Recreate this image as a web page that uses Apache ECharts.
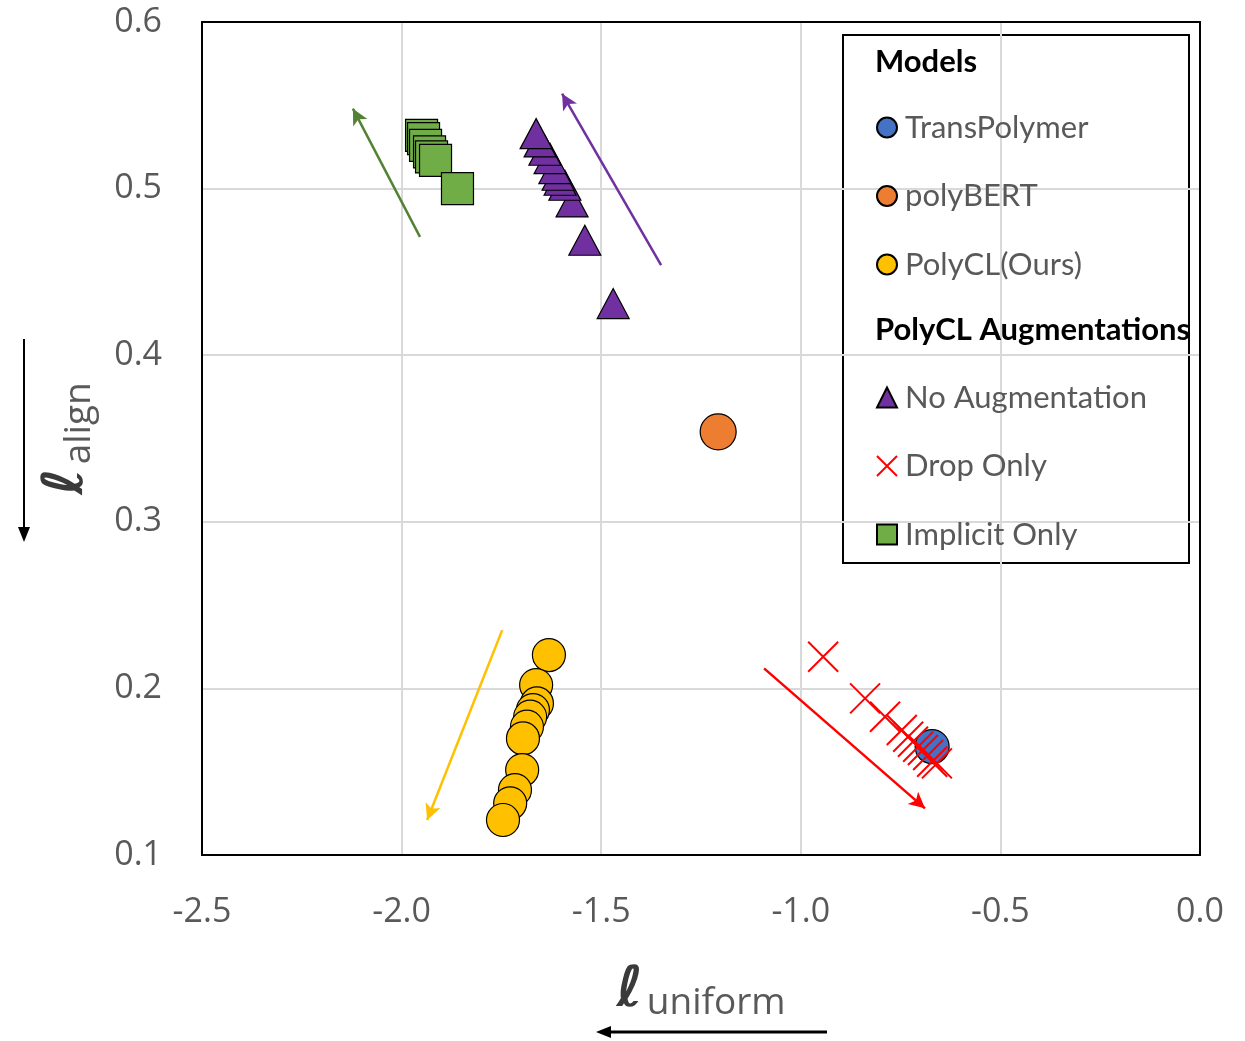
<!DOCTYPE html>
<html>
<head>
<meta charset="utf-8">
<script src="https://cdn.jsdelivr.net/npm/echarts@6/dist/echarts.min.js"></script>
<style>
  html, body { margin: 0; padding: 0; background: #fff; }
  #main { width: 1245px; height: 1041px; }
</style>
</head>
<body>
<div id="main"></div>
<script>
// values
const transPolymer = [[-0.671, 0.165]];
const polyBERT = [[-1.207, 0.354]];
const polyCLx = [-1.631, -1.663, -1.661, -1.671, -1.678, -1.686, -1.696, -1.698, -1.716, -1.728, -1.746];
const polyCLy = [0.220, 0.202, 0.191, 0.187, 0.183, 0.177, 0.170, 0.151, 0.139, 0.131, 0.121];
const noAugX = [-1.470, -1.541, -1.573, -1.591, -1.603, -1.608, -1.616, -1.628, -1.641, -1.653, -1.663];
const noAugY = [0.431, 0.469, 0.492, 0.502, 0.505, 0.508, 0.512, 0.518, 0.523, 0.528, 0.533];
const dropX = [-0.944, -0.839, -0.789, -0.747, -0.731, -0.719, -0.706, -0.694, -0.681, -0.671, -0.659];
const dropY = [0.219, 0.194, 0.183, 0.175, 0.171, 0.168, 0.165, 0.163, 0.160, 0.156, 0.155];
const implicitX = [-1.950, -1.945, -1.940, -1.930, -1.925, -1.915, -1.860];
const implicitY = [0.532, 0.530, 0.526, 0.522, 0.519, 0.517, 0.500];

// trend arrows [start, end]
const arrowImplicit = [[-1.954, 0.471], [-2.122, 0.548]];
const arrowNoAug = [[-1.350, 0.454], [-1.598, 0.557]];
const arrowPolyCL = [[-1.748, 0.235], [-1.936, 0.121]];
const arrowDrop = [[-1.092, 0.212], [-0.689, 0.128]];

const xTicks = [-2.5, 0, 0.5];   // min, max, step
const yTicks = [0.1, 0.6, 0.1];

const zip = (xs, ys) => xs.map((x, i) => [x, ys[i]]);

function arrow(pts, color) {
  return {
    silent: true,
    symbol: ['none', 'arrow'],
    symbolSize: [12, 16],
    label: { show: false },
    lineStyle: { color: color, width: 2.5, type: 'solid' },
    data: [[{ coord: pts[0] }, { coord: pts[1] }]]
  };
}

const chart = echarts.init(document.getElementById('main'));
const tickFont = { fontFamily: 'Open Sans', fontSize: 34, color: '#595959' };
const legendText = { fontFamily: 'Lato', fontSize: 31, color: '#595959', lineHeight: 28, padding: [0, 0, 0, 3] };
const nameRich = {
  l: { fontFamily: 'DejaVu Sans', fontStyle: 'italic', fontWeight: 'bold', fontSize: 56, color: '#3a3a3a', lineHeight: 58 },
  s: { fontFamily: 'Open Sans', fontSize: 37, color: '#595959', padding: [24, 0, 0, 4] }
};
const frame = { show: true, onZero: false, lineStyle: { color: '#000', width: 2 } };
const grid = { splitLine: { show: true, showMinLine: false, showMaxLine: false, lineStyle: { color: '#d9d9d9', width: 2 } } };

const option = {
  animation: false,
  backgroundColor: '#fff',
  grid: {
    left: 202, right: 45, top: 22, bottom: 186,
    containLabel: false, outerBoundsMode: 'none'
  },
  xAxis: [
    Object.assign({
      type: 'value',
      min: xTicks[0], max: xTicks[1], interval: xTicks[2],
      axisLine: frame,
      axisTick: { show: false },
      axisLabel: Object.assign({ margin: 40, formatter: v => v.toFixed(1) }, tickFont),
      name: '{l|ℓ}{s|uniform}',
      nameLocation: 'middle',
      nameGap: 106,
      nameTextStyle: { rich: nameRich }
    }, grid),
    {
      type: 'value', position: 'top',
      min: xTicks[0], max: xTicks[1], interval: xTicks[2],
      axisLine: frame, axisTick: { show: false }, axisLabel: { show: false }, splitLine: { show: false }
    }
  ],
  yAxis: [
    Object.assign({
      type: 'value',
      min: yTicks[0], max: yTicks[1], interval: yTicks[2],
      axisLine: frame,
      axisTick: { show: false },
      axisLabel: Object.assign({ margin: 40, formatter: v => v.toFixed(1) }, tickFont),
      name: '{l|ℓ}{s|align}',
      nameLocation: 'middle',
      nameRotate: 90,
      nameGap: 104,
      nameTextStyle: { rich: nameRich }
    }, grid),
    {
      type: 'value', position: 'right',
      min: yTicks[0], max: yTicks[1], interval: yTicks[2],
      axisLine: frame, axisTick: { show: false }, axisLabel: { show: false }, splitLine: { show: false }
    }
  ],
  legend: [
    {
      data: ['TransPolymer', 'polyBERT', 'PolyCL(Ours)'],
      orient: 'vertical', left: 876, top: 112, padding: 0,
      itemWidth: 20, itemHeight: 20, itemGap: 37.5,
      textStyle: legendText
    },
    {
      data: ['No Augmentation', 'Drop Only', 'Implicit Only'],
      orient: 'vertical', left: 876, top: 382, padding: 0,
      itemWidth: 20, itemHeight: 20, itemGap: 37.5,
      textStyle: legendText
    }
  ],
  graphic: [
    { type: 'rect', shape: { x: 843, y: 35, width: 346, height: 528 }, style: { fill: '#fff', stroke: '#000', lineWidth: 2 }, z: 0 },
    { type: 'text', left: 875, top: 46, style: { text: 'Models', font: 'bold 31px Lato', fill: '#000' }, z: 10 },
    { type: 'text', left: 875, top: 314, style: { text: 'PolyCL Augmentations', font: 'bold 31px Lato', fill: '#000' }, z: 10 },
    // direction arrows beside the axis names
    { type: 'line', shape: { x1: 24, y1: 339, x2: 24, y2: 528 }, style: { stroke: '#000', lineWidth: 2 } },
    { type: 'polygon', shape: { points: [[18, 527], [30, 527], [24, 542]] }, style: { fill: '#000' } },
    { type: 'line', shape: { x1: 827, y1: 1032, x2: 610, y2: 1032 }, style: { stroke: '#000', lineWidth: 3 } },
    { type: 'polygon', shape: { points: [[611, 1026], [611, 1038], [596, 1032]] }, style: { fill: '#000' } }
  ],
  series: [
    {
      name: 'TransPolymer', type: 'scatter', data: transPolymer,
      symbol: 'circle', symbolSize: 34,
      itemStyle: { color: '#4472c4', borderColor: '#000', borderWidth: 1.2, opacity: 1 }
    },
    {
      name: 'polyBERT', type: 'scatter', data: polyBERT,
      symbol: 'circle', symbolSize: 36,
      itemStyle: { color: '#ed7d31', borderColor: '#000', borderWidth: 1.2, opacity: 1 }
    },
    {
      name: 'PolyCL(Ours)', type: 'scatter', data: zip(polyCLx, polyCLy),
      symbol: 'circle', symbolSize: 33,
      itemStyle: { color: '#ffc000', borderColor: '#000', borderWidth: 1.2, opacity: 1 },
      markLine: arrow(arrowPolyCL, '#ffc000')
    },
    {
      name: 'No Augmentation', type: 'scatter', data: zip(noAugX, noAugY),
      symbol: 'triangle', symbolSize: [32, 30],
      itemStyle: { color: '#7030a0', borderColor: '#000', borderWidth: 1.2, opacity: 1 },
      markLine: arrow(arrowNoAug, '#7030a0')
    },
    {
      name: 'Drop Only', type: 'scatter', data: zip(dropX, dropY),
      symbol: 'path://M0,0L10,10M10,0L0,10', symbolSize: 30,
      itemStyle: { color: 'transparent', borderColor: '#ff0000', borderWidth: 2, opacity: 1 },
      markLine: arrow(arrowDrop, '#ff0000')
    },
    {
      name: 'Implicit Only', type: 'scatter', data: zip(implicitX, implicitY),
      symbol: 'rect', symbolSize: 32,
      itemStyle: { color: '#70ad47', borderColor: '#000', borderWidth: 1.2, opacity: 1 },
      markLine: arrow(arrowImplicit, '#548235')
    }
  ]
};

chart.setOption(option);
</script>
</body>
</html>
